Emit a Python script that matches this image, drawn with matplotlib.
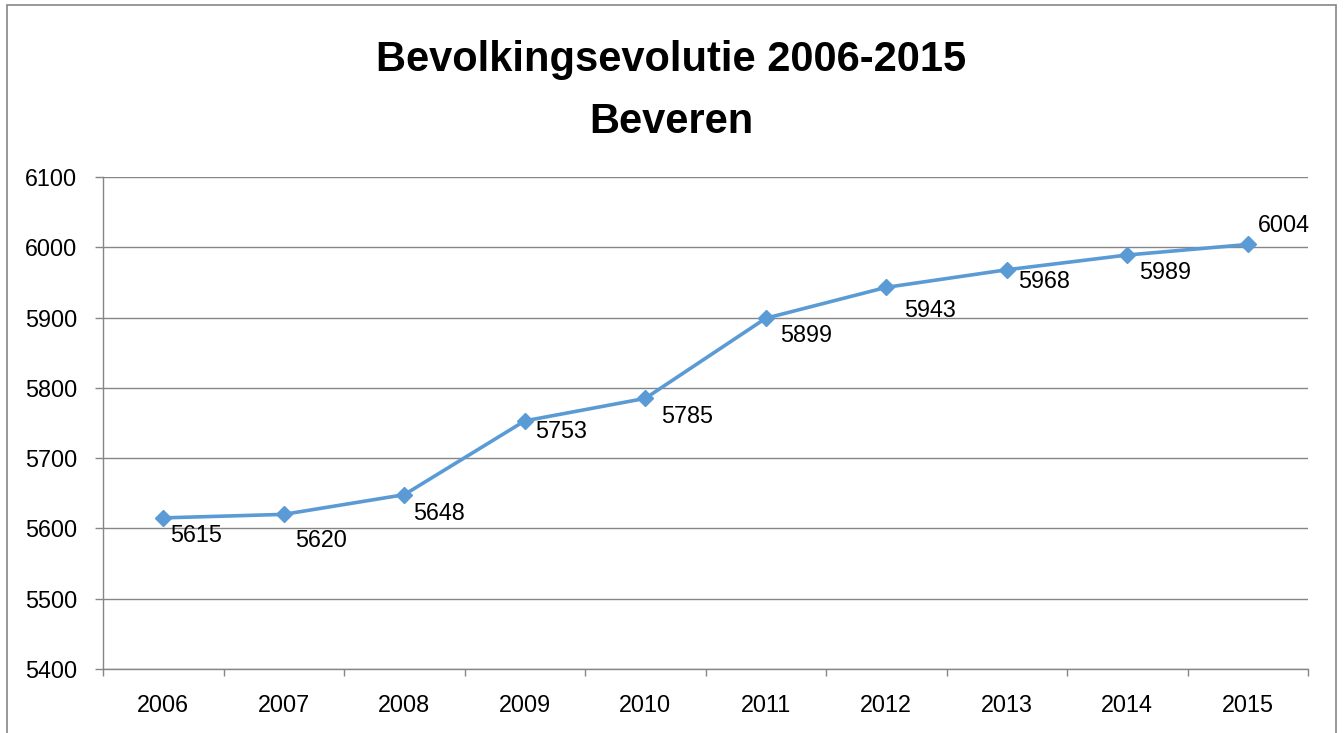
import matplotlib
matplotlib.use("Agg")
import matplotlib.pyplot as plt
from matplotlib.patches import Rectangle

years = ["2006", "2007", "2008", "2009", "2010", "2011", "2012", "2013", "2014", "2015"]
population = [5615, 5620, 5648, 5753, 5785, 5899, 5943, 5968, 5989, 6004]
y_ticks = [5400, 5500, 5600, 5700, 5800, 5900, 6000, 6100]
title_lines = ["Bevolkingsevolutie 2006-2015", "Beveren"]

# label offsets in pixels (left edge dx, vertical center dy downward)
label_offsets_px = [(7, 17.5), (11, 26), (9, 19), (10, 11), (16, 18),
                    (14, 17), (18, 23), (11, 12), (12, 17), (10, -19)]

plt.rcParams['font.family'] = ['Liberation Sans', 'DejaVu Sans']
W, H = 1344, 733
fig = plt.figure(figsize=(W / 100, H / 100), dpi=100)
ax = fig.add_axes([103 / W, 1 - 669 / H, (1308 - 103) / W, (669 - 177) / H])

grid_c = "#868686"
line_c = "#5B9BD5"
fs = 16.8
x = list(range(len(years)))
ax.plot(x, population, color=line_c, lw=2.6, marker="D", ms=8, mec=line_c, mfc=line_c, zorder=3)

for i, v in enumerate(population):
    dx, dy = label_offsets_px[i]
    ax.annotate(str(v), (i, v), xytext=(dx * 0.72, -dy * 0.72), textcoords="offset points",
                ha="left", va="center", fontsize=fs, color="black")

ax.set_xlim(-0.5, len(years) - 0.5)
ax.set_ylim(y_ticks[0], y_ticks[-1])
ax.set_yticks(y_ticks)
ax.set_yticklabels([str(t) for t in y_ticks])
ax.set_xticks(x)
ax.set_xticklabels(years)
ax.set_xticks([i - 0.5 for i in range(len(years) + 1)], minor=True)
ax.tick_params(axis="x", which="major", length=0, pad=18, labelsize=fs)
ax.tick_params(axis="x", which="minor", length=5, color=grid_c, width=1)
ax.tick_params(axis="y", which="major", length=5.5, color=grid_c, width=1, pad=13, labelsize=fs)

ax.grid(axis="y", color=grid_c, lw=1)
ax.set_axisbelow(True)
for s in ["top", "right"]:
    ax.spines[s].set_visible(False)
for s in ["left", "bottom"]:
    ax.spines[s].set_color(grid_c)
    ax.spines[s].set_linewidth(1)

cx = 0.5 * (375 + 968) / W
fig.text(cx, 1 - 71 / H, title_lines[0], ha="center", va="baseline", fontsize=30, fontweight="bold")
fig.text(cx, 1 - 133 / H, title_lines[1], ha="center", va="baseline", fontsize=30, fontweight="bold")

fig.add_artist(Rectangle((7 / W, -0.05), (1336 - 7) / W, 1.05 - 5 / H,
                         transform=fig.transFigure, fill=False, edgecolor=grid_c, lw=1.2))

fig.savefig("out.png", dpi=100)
